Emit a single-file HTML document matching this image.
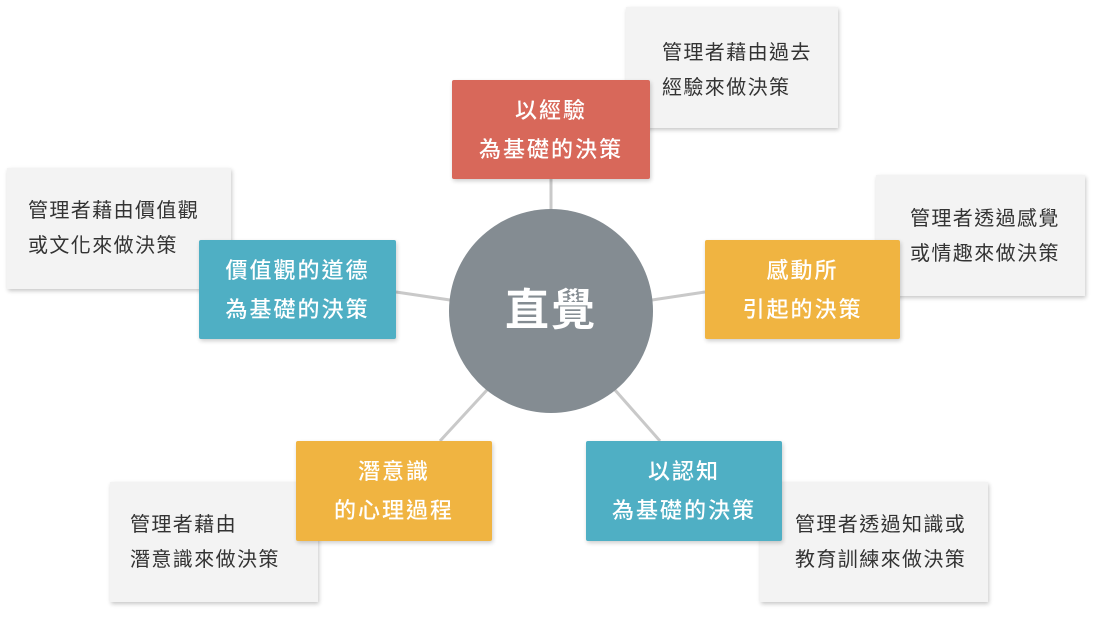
<!DOCTYPE html>
<html><head><meta charset="utf-8"><style>
body{margin:0;width:1100px;height:618px;background:#fff;position:relative;overflow:hidden;font-family:"Liberation Sans","Noto Sans CJK TC",sans-serif}
.g{position:absolute;background:#f3f3f3;box-shadow:1px 2px 4px rgba(0,0,0,.22);color:#333;font-size:20px;letter-spacing:1.4px;line-height:35px;box-sizing:border-box}
.c{position:absolute;color:#fff;font-size:22px;letter-spacing:2px;line-height:39px;text-align:center;display:flex;align-items:center;justify-content:center;border-radius:2px;box-shadow:1px 2px 4px rgba(0,0,0,.2);font-weight:500}
svg{position:absolute;left:0;top:0}
</style></head><body>
<div class="g" style="left:626px;top:7px;width:212px;height:121px;padding:29px 0 0 36px">管理者藉由過去<br>經驗來做決策</div>
<div class="g" style="left:7px;top:168px;width:224px;height:121px;padding:26px 0 0 21px">管理者藉由價值觀<br>或文化來做決策</div>
<div class="g" style="left:876px;top:175px;width:209px;height:121px;padding:27px 0 0 34px">管理者透過感覺<br>或情趣來做決策</div>
<div class="g" style="left:110px;top:482px;width:208px;height:120px;padding:26px 0 0 20px">管理者藉由<br>潛意識來做決策</div>
<div class="g" style="left:760px;top:482px;width:228px;height:120px;padding:26px 0 0 35px">管理者透過知識或<br>教育訓練來做決策</div>
<svg width="1100" height="618"><g stroke="#c9c9c9" stroke-width="3">
<line x1="551" y1="179" x2="551" y2="210"/><line x1="396" y1="292" x2="450" y2="300"/><line x1="652" y1="300" x2="705" y2="292"/><line x1="440" y1="441" x2="487" y2="390"/><line x1="660" y1="441" x2="615" y2="390"/></g>
<circle cx="551" cy="311" r="102" fill="#848c92"/></svg>
<div style="position:absolute;left:449px;top:284px;width:204px;text-align:center;color:#fff;font-size:44px;letter-spacing:2px;font-weight:bold;line-height:54px">直覺</div>
<div class="c" style="left:452px;top:80px;width:198px;height:99px;background:#d8685a">以經驗<br>為基礎的決策</div>
<div class="c" style="left:199px;top:240px;width:197px;height:99px;background:#4fafc4">價值觀的道德<br>為基礎的決策</div>
<div class="c" style="left:705px;top:240px;width:195px;height:99px;background:#f0b441">感動所<br>引起的決策</div>
<div class="c" style="left:296px;top:441px;width:196px;height:100px;background:#f0b441">潛意識<br>的心理過程</div>
<div class="c" style="left:586px;top:441px;width:196px;height:100px;background:#4fafc4">以認知<br>為基礎的決策</div>
</body></html>
